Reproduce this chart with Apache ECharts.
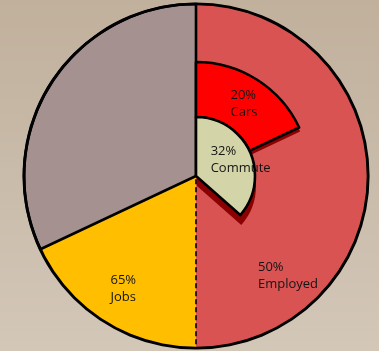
<!DOCTYPE html>
<html><head><meta charset="utf-8">
<script src="https://cdn.jsdelivr.net/npm/echarts@6/dist/echarts.min.js"></script>
<style>html,body{margin:0;padding:0;overflow:hidden;}#c{width:379px;height:351px;}</style>
</head><body><div id="c"></div>
<script>
// ---- data ----
const outerNames = ['Employed', 'Jobs', 'Other'];
const outerValues = [50, 18, 32];
const outerLabels = ['50%', '65%', ''];
const carsNames = ['Cars', ''];
const carsValues = [18, 82];
const carsLabels = ['20%', ''];
const commuteNames = ['Commute', ''];
const commuteValues = [36.5, 63.5];
const commuteLabels = ['32%', ''];

// ---- styles ----
const CX = 196, CY = 176, R = 172;
const outerColors = ['#d95353', '#ffbf00', '#a69191'];
const textStyle = { color: '#141414', fontFamily: 'Open Sans', fontSize: 13, lineHeight: 17 };

function labelOpt(pcts, names) {
  return {
    show: true, position: 'inside',
    formatter: p => pcts[p.dataIndex] ? '{a|' + pcts[p.dataIndex] + '}\n{a|' + names[p.dataIndex] + '}' : '',
    rich: { a: Object.assign({ align: 'left' }, textStyle) }
  };
}

const chart = echarts.init(document.getElementById('c'), null, { renderer: 'canvas' });
const outerBorders = [
  { borderWidth: 0 },
  { borderWidth: 0 },
  { borderColor: '#000', borderWidth: 2.6 }
];
const outerShift = [[3, 100], [-25, 38], [0, 0]];
const common = { type: 'pie', center: [CX, CY], startAngle: 90, clockwise: true, avoidLabelOverlap: false,
  silent: true, emphasis: { disabled: true }, labelLine: { show: false } };

function innerSeries(names, values, pcts, radius, color, shadow, withShadow, layout) {
  return Object.assign({}, common, {
    radius: radius,
    label: withShadow ? { show: false } : labelOpt(pcts, names),
    labelLayout: layout,
    data: names.map((n, i) => ({
      name: n, value: values[i],
      itemStyle: i !== 0 ? { color: 'rgba(0,0,0,0)', borderWidth: 0 }
        : withShadow
          ? { color: '#8b0000', borderWidth: 0, shadowColor: '#8b0000', shadowOffsetX: shadow[0], shadowOffsetY: shadow[1] }
          : { color: color, borderColor: '#000', borderWidth: 2.6 }
    }))
  });
}

chart.setOption({
  animation: false,
  backgroundColor: {
    type: 'linear', x: 0, y: 0, x2: 0, y2: 1,
    colorStops: [{ offset: 0, color: '#c0b09c' }, { offset: 1, color: '#d3c7b8' }]
  },
  series: [
    Object.assign({}, common, {
      radius: [0, R],
      label: labelOpt(outerLabels, outerNames),
      labelLayout: p => ({ dx: outerShift[p.dataIndex][0], dy: outerShift[p.dataIndex][1] }),
      data: outerNames.map((n, i) => ({
        name: n, value: outerValues[i],
        itemStyle: Object.assign({ color: outerColors[i] }, outerBorders[i])
      }))
    }),
    // dashed outline of the Employed slice drawn over the fills
    Object.assign({}, common, {
      radius: [0, R], label: { show: false },
      data: outerNames.map((n, i) => ({
        name: n, value: outerValues[i],
        itemStyle: i === 0
          ? { color: 'rgba(0,0,0,0)', borderColor: '#000', borderWidth: 1.6, borderType: [5, 3] }
          : { color: 'rgba(0,0,0,0)', borderWidth: 0 }
      }))
    }),
    Object.assign({}, common, {
      radius: [R - 1.3, R + 1.6], label: { show: false },
      data: [{ name: 'ring', value: 1, itemStyle: { color: '#000', borderWidth: 0 } }]
    }),
    innerSeries(carsNames, carsValues, carsLabels, [59, 114], '#ff0000', [1, 4], true),
    innerSeries(carsNames, carsValues, carsLabels, [59, 114], '#ff0000', [1, 4], false, () => ({ dy: 3 })),
    innerSeries(commuteNames, commuteValues, commuteLabels, [0, 59], '#d3d4a8', [1, 10], true),
    innerSeries(commuteNames, commuteValues, commuteLabels, [0, 59], '#d3d4a8', [1, 10], false, () => ({ dx: 15, dy: -3 }))
  ]
});
</script>
</body></html>
